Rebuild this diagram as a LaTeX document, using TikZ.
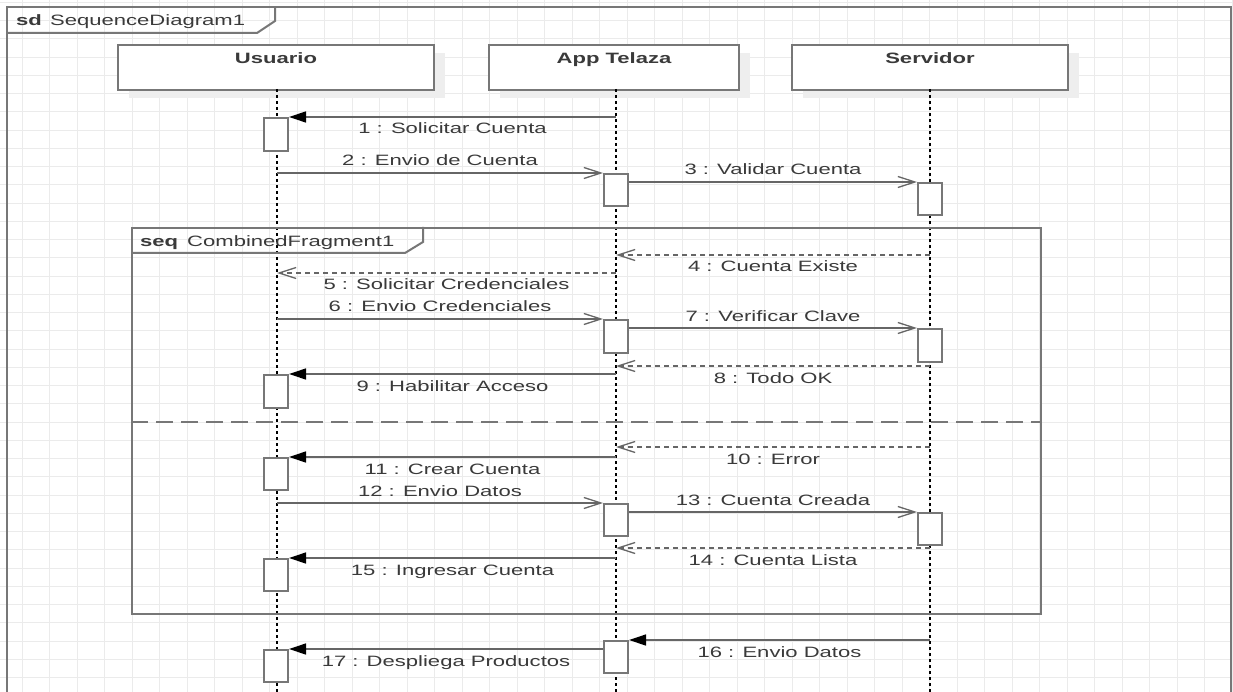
\documentclass[tikz,border=0pt]{standalone}
\usepackage{fontspec}
\setmainfont{Liberation Sans}[FakeStretch=1.47]
\usetikzlibrary{arrows.meta,shadows}

\definecolor{gridc}{HTML}{EBEBEB}
\definecolor{edge}{HTML}{777777}
\definecolor{msg}{HTML}{666666}
\definecolor{txt}{HTML}{3A3A3A}
\definecolor{shade}{HTML}{EEEEEE}

\begin{document}
\begin{tikzpicture}[x=1pt,y=-1pt,
  every node/.style={font=\fontsize{15}{18}\selectfont, text=txt, inner sep=0pt},
  boldtxt/.style={font=\fontsize{15}{18}\selectfont\bfseries},
  gridline/.style={draw=gridc, line width=1pt},
  frame/.style={draw=edge, line width=2pt},
  header/.style={draw=edge, line width=2pt, fill=white, minimum width=316pt,
    minimum height=45pt, anchor=north west,
    drop shadow={shadow xshift=11pt, shadow yshift=-8pt, fill=shade, opacity=1}},
  act/.style={draw=edge, line width=2pt, fill=white, minimum width=24pt, anchor=north west},
  lifeline/.style={draw=black, line width=1.4pt, dash pattern=on 3pt off 3pt},
  call/.style={draw=msg, line width=1.3pt, -{Triangle[length=17pt,width=11pt,color=black]}},
  sendmsg/.style={draw=msg, line width=1.3pt, -{Straight Barb[length=17pt,width=11pt]}},
  reply/.style={sendmsg, dash pattern=on 5pt off 4pt},
  separator/.style={draw=edge, line width=2pt, dash pattern=on 17pt off 8pt},
  lblbelow/.style={midway, anchor=base, yshift=-17pt},
  lblabove/.style={midway, anchor=base, yshift=7pt}]

\useasboundingbox (0,0) rectangle (1233,692);
\clip (0,0) rectangle (1233,692);
\fill[white] (0,0) rectangle (1233,692);

% background grid
\foreach \i in {0,...,44} \draw[gridline] (22.3+27.5*\i,0) -- ++(0,692);
\foreach \j in {0,...,38} \draw[gridline] (0,2.4+18.25*\j) -- ++(1233,0);

% outer sequence diagram frame
\draw[frame] (7,7) rectangle (1231,720);
\draw[frame] (7,33) -- (257,33) -- (275,21) -- (275,7);
\node[boldtxt, anchor=base west] (sdkw) at (16,26) {sd};
\node[anchor=base west] (sdname) at (50,26) {SequenceDiagram1};

% lifeline heads
\node[header, label={[boldtxt, anchor=base, yshift=-20pt]north:Usuario}] (usr) at (117,44) {};
\node[header, minimum width=250pt, label={[boldtxt, anchor=base, yshift=-20pt]north:App Telaza}] (app) at (488,44) {};
\node[header, minimum width=276pt, label={[boldtxt, anchor=base, yshift=-20pt]north:Servidor}] (srv) at (791,44) {};

% lifelines
\coordinate (Ul) at (277,89);
\coordinate (Al) at (616,89);
\coordinate (Sl) at (930,89);
\draw[lifeline] (Ul) -- (Ul |- 0,700);
\draw[lifeline] (Al) -- (Al |- 0,700);
\draw[lifeline] (Sl) -- (Sl |- 0,700);

% combined fragment
\node[frame, minimum width=909pt, minimum height=386pt, anchor=north west] (frag) at (131,227) {};
\draw[frame] (frag.north west |- 0,253) -- (405,253) -- (423,242) -- (423,227);
\node[boldtxt, anchor=base west] (seqkw) at (140,247) {seq};
\node[anchor=base west] (seqname) at (187,247) {CombinedFragment1};
\draw[separator] (frag.west |- 0,422) -- (frag.east |- 0,422);

% activation bars
\node[act, minimum height=33pt] (ua1) at (263,117) {};
\node[act, minimum height=32pt] (aa1) at (603,173) {};
\node[act, minimum height=32pt] (sa1) at (917,182) {};
\node[act, minimum height=33pt] (aa2) at (603,319) {};
\node[act, minimum height=33pt] (sa2) at (917,328) {};
\node[act, minimum height=33pt] (ua2) at (263,374) {};
\node[act, minimum height=32pt] (ua3) at (263,457) {};
\node[act, minimum height=32pt] (aa3) at (603,503) {};
\node[act, minimum height=32pt] (sa3) at (917,512) {};
\node[act, minimum height=32pt] (ua4) at (263,558) {};
\node[act, minimum height=32pt] (aa4) at (603,640) {};
\node[act, minimum height=32pt] (ua5) at (263,649) {};

% messages
\draw[call] (Al |- ua1.north) -- (ua1.north east) node[lblbelow] (m1) {1 : Solicitar Cuenta};
\draw[sendmsg] (Ul |- aa1.north) -- (aa1.north west) node[lblabove] (m2) {2 : Envio de Cuenta};
\draw[sendmsg] (aa1.east |- sa1.north) -- (sa1.north west) node[lblabove] (m3) {3 : Validar Cuenta};
\draw[reply] (Sl |- 0,255) -- (Al |- 0,255) node[lblbelow] (m4) {4 : Cuenta Existe};
\draw[reply] (Al |- 0,273) -- (Ul |- 0,273) node[lblbelow] (m5) {5 : Solicitar Credenciales};
\draw[sendmsg] (Ul |- aa2.north) -- (aa2.north west) node[lblabove] (m6) {6 : Envio Credenciales};
\draw[sendmsg] (aa2.east |- sa2.north) -- (sa2.north west) node[lblabove] (m7) {7 : Verificar Clave};
\draw[reply] (Sl |- 0,366) -- (Al |- 0,366) node[lblbelow] (m8) {8 : Todo OK};
\draw[call] (Al |- ua2.north) -- (ua2.north east) node[lblbelow] (m9) {9 : Habilitar Acceso};
\draw[reply] (Sl |- 0,447) -- (Al |- 0,447) node[lblbelow] (m10) {10 : Error};
\draw[call] (Al |- ua3.north) -- (ua3.north east) node[lblbelow] (m11) {11 : Crear Cuenta};
\draw[sendmsg] (Ul |- aa3.north) -- (aa3.north west) node[lblabove] (m12) {12 : Envio Datos};
\draw[sendmsg] (aa3.east |- sa3.north) -- (sa3.north west) node[lblabove] (m13) {13 : Cuenta Creada};
\draw[reply] (Sl |- 0,548) -- (Al |- 0,548) node[lblbelow] (m14) {14 : Cuenta Lista};
\draw[call] (Al |- ua4.north) -- (ua4.north east) node[lblbelow] (m15) {15 : Ingresar Cuenta};
\draw[call] (Sl |- aa4.north) -- (aa4.north east) node[lblbelow] (m16) {16 : Envio Datos};
\draw[call] (aa4.west |- ua5.north) -- (ua5.north east) node[lblbelow] (m17) {17 : Despliega Productos};

\end{tikzpicture}
\end{document}
